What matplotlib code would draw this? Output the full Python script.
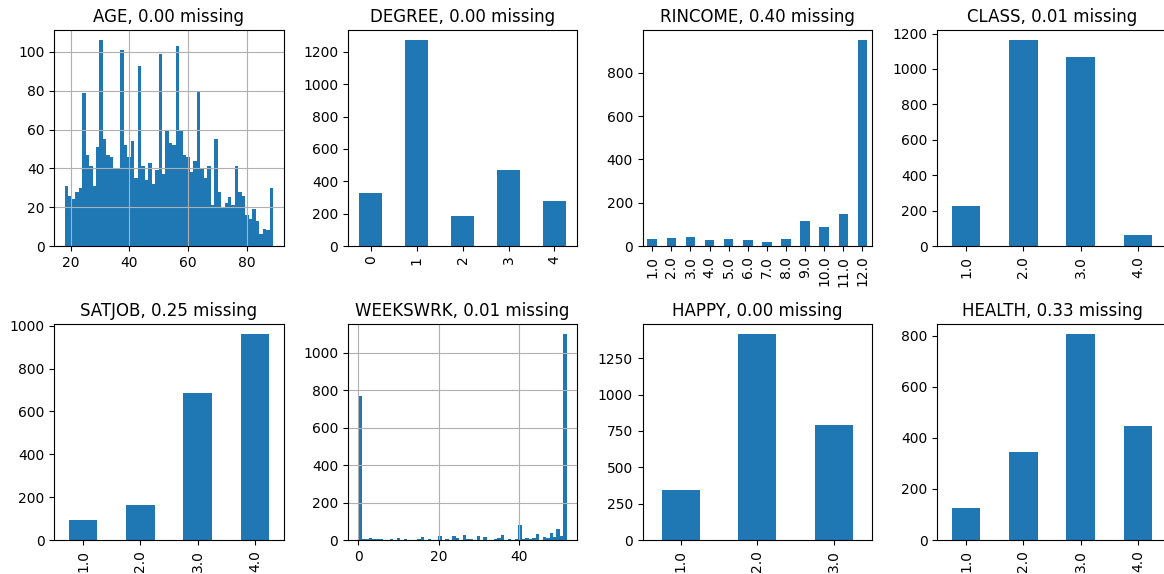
import numpy as np
import matplotlib
matplotlib.use("Agg")
import matplotlib.pyplot as plt

# AGE: counts per histogram bin (60 equal bins from 18 to 89)
age_min, age_max = 18, 89
age_bin_counts = [31, 26, 24, 28, 30, 79, 47, 41, 31, 51,
                  106, 55, 47, 46, 40, 40, 101, 52, 46, 54,
                  35, 93, 41, 34, 43, 32, 39, 99, 37, 60,
                  53, 52, 103, 60, 47, 46, 38, 44, 80, 40,
                  35, 41, 21, 55, 28, 20, 22, 25, 21, 41,
                  28, 26, 16, 14, 19, 13, 6, 9, 8, 30]

# WEEKSWRK: number of respondents for each value 0..52
weeks_values = list(range(53))
weeks_counts = [770, 3, 3, 12, 6, 3, 6, 2, 6, 2,
                11, 2, 6, 2, 2, 3, 16, 2, 3, 1,
                22, 2, 3, 2, 22, 11, 27, 3, 5, 2,
                22, 2, 16, 2, 3, 11, 27, 2, 3, 4,
                81, 3, 11, 3, 11, 32, 16, 9, 38, 16,
                59, 22, 1100]

degree_labels = ["0", "1", "2", "3", "4"]
degree_counts = [329, 1272, 187, 471, 280]

rincome_labels = ["1.0", "2.0", "3.0", "4.0", "5.0", "6.0",
                  "7.0", "8.0", "9.0", "10.0", "11.0", "12.0"]
rincome_counts = [31, 35, 40, 26, 31, 26, 17, 31, 114, 86, 146, 950]

class_labels = ["1.0", "2.0", "3.0", "4.0"]
class_counts = [227, 1162, 1067, 64]

satjob_labels = ["1.0", "2.0", "3.0", "4.0"]
satjob_counts = [93, 162, 686, 960]

happy_labels = ["1.0", "2.0", "3.0"]
happy_counts = [347, 1415, 792]

health_labels = ["1.0", "2.0", "3.0", "4.0"]
health_counts = [127, 343, 805, 445]

titles = ["AGE, 0.00 missing", "DEGREE, 0.00 missing", "RINCOME, 0.40 missing",
          "CLASS, 0.01 missing", "SATJOB, 0.25 missing", "WEEKSWRK, 0.01 missing",
          "HAPPY, 0.00 missing", "HEALTH, 0.33 missing"]

W, H = 1164, 574
fig = plt.figure(figsize=(W / 100, H / 100), dpi=100)

lefts = [54.3, 348.0, 642.7, 937.3]
tops = [30.0, 324.0]
aw, ah = 229.3, 216.0


def make_axes(row, col):
    l = lefts[col] / W
    b = (H - tops[row] - ah) / H
    return fig.add_axes([l, b, aw / W, ah / H])


blue = "#1f77b4"


def bar_panel(ax, labels, counts, title):
    x = np.arange(len(labels))
    ax.bar(x, counts, width=0.5, color=blue)
    ax.set_xticks(x)
    ax.set_xticklabels(labels, rotation=90)
    ax.set_xlim(-0.5, len(labels) - 0.5)
    ax.set_title(title)


# AGE histogram
ax = make_axes(0, 0)
age_edges = np.linspace(age_min, age_max, len(age_bin_counts) + 1)
ax.hist(age_edges[:-1], bins=age_edges, weights=age_bin_counts, color=blue)
ax.grid(True)
ax.set_title(titles[0])

bar_panel(make_axes(0, 1), degree_labels, degree_counts, titles[1])
bar_panel(make_axes(0, 2), rincome_labels, rincome_counts, titles[2])
bar_panel(make_axes(0, 3), class_labels, class_counts, titles[3])
bar_panel(make_axes(1, 0), satjob_labels, satjob_counts, titles[4])

# WEEKSWRK histogram
ax = make_axes(1, 1)
ax.hist(weeks_values, bins=60, weights=weeks_counts, color=blue)
ax.grid(True)
ax.set_title(titles[5])

bar_panel(make_axes(1, 2), happy_labels, happy_counts, titles[6])
bar_panel(make_axes(1, 3), health_labels, health_counts, titles[7])

fig.savefig("out.png", dpi=100)
